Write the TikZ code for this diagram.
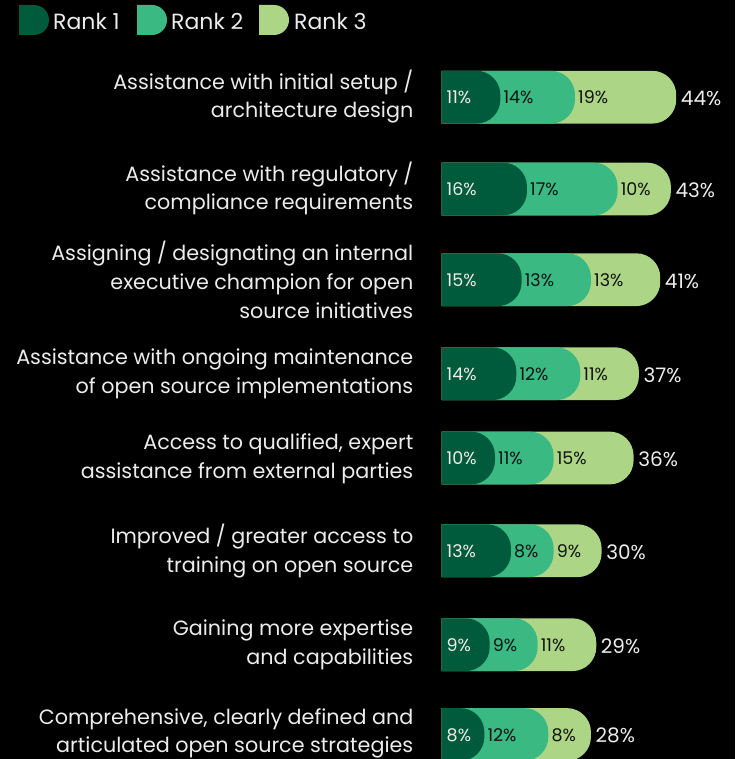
\documentclass[tikz,border=0pt]{standalone}
\usepackage{fontspec}
\setmainfont{Poppins}
\definecolor{rone}{RGB}{0,90,60}
\definecolor{rtwo}{RGB}{59,185,130}
\definecolor{rthree}{RGB}{172,214,134}
\definecolor{txt}{RGB}{236,236,236}
\definecolor{darktxt}{RGB}{18,18,18}
\newcommand\rankbar[6]{%
  \pgfmathsetmacro\ea{441.7+5.33*#3}%
  \pgfmathsetmacro\eb{441.7+5.33*(#3+#4)}%
  \pgfmathsetmacro\ec{441.7+5.33*(#3+#4+#5)}%
  \fill[rthree] (441.7,#2+26.4) -- (441.7,#2-26.4) [rounded corners=24pt] -- (\ec,#2-26.4) -- (\ec,#2+26.4) [sharp corners] -- cycle;
  \fill[rtwo] (441.7,#2+26.4) -- (441.7,#2-26.4) [rounded corners=24pt] -- (\eb,#2-26.4) -- (\eb,#2+26.4) [sharp corners] -- cycle;
  \fill[rone] (441.7,#2+26.4) -- (441.7,#2-26.4) [rounded corners=24pt] -- (\ea,#2-26.4) -- (\ea,#2+26.4) [sharp corners] -- cycle;
  \node[seglabw] (#1a) at (446.5,#2+6.6) {#3\%};
  \node[seglab] (#1b) at (\ea+3,#2+6.6) {#4\%};
  \node[seglab] (#1c) at (\eb+3,#2+6.6) {#5\%};
  \node[totlab] (#1t) at (\ec+4.5,#2+8.3) {#6\%};
}
\begin{document}
\begin{tikzpicture}[x=1pt,y=-1pt,
  cat/.style={anchor=east, align=right, inner sep=0pt, text=txt, font=\fontsize{20.7}{28.7}\selectfont},
  seglab/.style={anchor=base west, inner sep=0pt, text=darktxt, font=\fontsize{17.5}{20}\selectfont},
  seglabw/.style={seglab, text=txt},
  totlab/.style={anchor=base west, inner sep=0pt, text=txt, font=\fontsize{20}{24}\selectfont},
  legtxt/.style={anchor=base west, inner sep=0pt, text=txt, font=\fontsize{22}{24}\selectfont}]
\fill[black] (0,0) rectangle (735,759);
\useasboundingbox (0,0) rectangle (735,759);
\clip (0,0) rectangle (735,759);
% legend
\fill[rone] (19,35) -- (19,5) [rounded corners=15pt] -- (49,5) -- (49,35) [sharp corners] -- cycle;
\node[legtxt] (leg1) at (53,29.3) {Rank 1};
\fill[rtwo] (137,35) -- (137,5) [rounded corners=15pt] -- (167,5) -- (167,35) [sharp corners] -- cycle;
\node[legtxt] (leg2) at (171,29.3) {Rank 2};
\fill[rthree] (259,35) -- (259,5) [rounded corners=15pt] -- (289,5) -- (289,35) [sharp corners] -- cycle;
\node[legtxt] (leg3) at (294,29.3) {Rank 3};
% categories
\node[cat] (c1) at (413.5,96.5) {Assistance with initial setup /\\architecture design};
\node[cat] (c2) at (413.5,188.5) {Assistance with regulatory /\\compliance requirements};
\node[cat] (c3) at (413.5,280) {Assigning / designating an internal\\executive champion for open\\source initiatives};
\node[cat] (c4) at (413.5,373.7) {Assistance with ongoing maintenance\\of open source implementations};
\node[cat] (c5) at (413.5,458.5) {Access to qualified, expert\\assistance from external parties};
\node[cat] (c6) at (413.5,550.7) {Improved / greater access to\\training on open source};
\node[cat] (c7) at (413.5,644.7) {Gaining more expertise\\and capabilities};
\node[cat] (c8) at (413.5,733.5) {Comprehensive, clearly defined and\\articulated open source strategies};
% bars
\rankbar{b1}{97.2}{11}{14}{19}{44}
\rankbar{b2}{189}{16}{17}{10}{43}
\rankbar{b3}{279.7}{15}{13}{13}{41}
\rankbar{b4}{373.7}{14}{12}{11}{37}
\rankbar{b5}{458}{10}{11}{15}{36}
\rankbar{b6}{550.7}{13}{8}{9}{30}
\rankbar{b7}{644.7}{9}{9}{11}{29}
\rankbar{b8}{734.5}{8}{12}{8}{28}
\end{tikzpicture}
\end{document}
